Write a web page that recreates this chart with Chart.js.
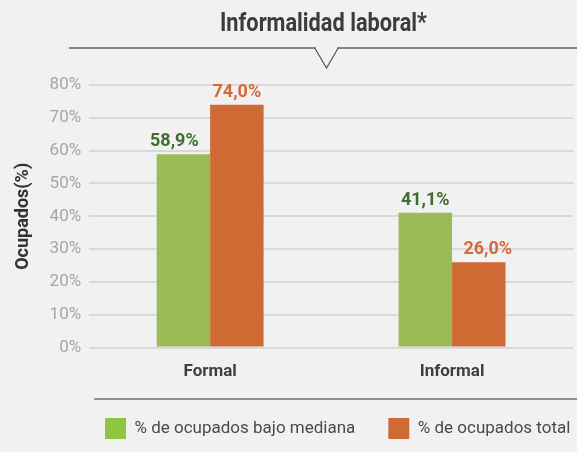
<!DOCTYPE html>
<html><head><meta charset="utf-8">
<script src="https://cdn.jsdelivr.net/npm/chart.js@4/dist/chart.umd.min.js"></script>
<style>html,body{margin:0;padding:0;background:#f1f1f1;overflow:hidden}#wrap{width:577px;height:452px;position:relative}</style>
</head><body><div id="wrap"><canvas id="c" width="577" height="452"></canvas></div>
<script>
const categories = ['Formal', 'Informal'];
const seriesNames = ['% de ocupados bajo mediana', '% de ocupados total'];
const bajoMediana = [58.9, 41.1];
const ocupadosTotal = [74.0, 26.0];
const yTickValues = [0, 10, 20, 30, 40, 50, 60, 70, 80];
const chartTitle = 'Informalidad laboral*';
const yAxisTitle = 'Ocupados(%)';

const barColors = ['#9bbb59', '#d06a35'];
const legendColors = ['#8dc63f', '#d06a35'];
const labelColors = ['#3f6d2f', '#d4693a'];
const BASE_FONT = "Roboto, 'Noto Sans', sans-serif";

function fmt(v) { return v.toFixed(1).replace('.', ',') + '%'; }

const shiftPlugin = {
  id: 'shiftPlugin',
  afterLayout(chart) {
    const lg = chart.legend;
    if (lg) {
      const pad = lg.options.labels.padding;
      lg.left = 105 - pad; lg.right = lg.left + 700;
      lg.top = 418 - pad; lg.bottom = lg.top + lg.height;
    }
  }
};

const titlePlugin = {
  id: 'condensedTitle',
  afterDraw(chart) {
    const ctx = chart.ctx;
    ctx.save();
    ctx.font = "bold 25px " + BASE_FONT;
    ctx.fillStyle = '#3c3c3c';
    ctx.textAlign = 'center';
    ctx.textBaseline = 'alphabetic';
    const w = ctx.measureText(chartTitle).width;
    const sx = 207 / w;
    ctx.translate(323.5, 31);
    ctx.scale(sx, 1);
    ctx.fillText(chartTitle, 0, 0);
    ctx.restore();
  }
};

const decorPlugin = {
  id: 'decorPlugin',
  afterDraw(chart) {
    const ctx = chart.ctx;
    const cx = 326.5;
    ctx.save();
    ctx.strokeStyle = '#888888';
    ctx.lineWidth = 2;
    ctx.beginPath();
    ctx.moveTo(69, 48); ctx.lineTo(cx - 11, 48);
    ctx.moveTo(cx + 11, 48); ctx.lineTo(577, 48);
    ctx.stroke();
    ctx.strokeStyle = '#555555';
    ctx.lineWidth = 1.2;
    ctx.beginPath();
    ctx.moveTo(cx - 12, 47.5); ctx.lineTo(cx, 68); ctx.lineTo(cx + 12, 47.5);
    ctx.stroke();
    ctx.strokeStyle = '#909090';
    ctx.lineWidth = 2;
    ctx.beginPath();
    ctx.moveTo(94, 399); ctx.lineTo(577, 399);
    ctx.stroke();
    ctx.restore();
  }
};

const valueLabelPlugin = {
  id: 'valueLabelPlugin',
  afterDatasetsDraw(chart) {
    const ctx = chart.ctx;
    ctx.save();
    ctx.font = "bold 18px " + BASE_FONT;
    ctx.textAlign = 'center';
    ctx.textBaseline = 'alphabetic';
    chart.data.datasets.forEach((ds, di) => {
      const meta = chart.getDatasetMeta(di);
      meta.data.forEach((bar, i) => {
        const v = ds.data[i];
        const other = chart.data.datasets[1 - di].data[i];
        let dx = 0;
        if (other > v) dx = (di === 0 ? -1 : 1) * 9;
        ctx.fillStyle = labelColors[di];
        ctx.fillText(fmt(v), bar.x + dx, bar.y - 8);
      });
    });
    ctx.restore();
  }
};

new Chart(document.getElementById('c'), {
  type: 'bar',
  data: {
    labels: categories,
    datasets: [
      { label: seriesNames[0], data: bajoMediana, backgroundColor: barColors[0], legendColor: legendColors[0] },
      { label: seriesNames[1], data: ocupadosTotal, backgroundColor: barColors[1], legendColor: legendColors[1] }
    ]
  },
  options: {
    responsive: false,
    devicePixelRatio: 1,
    animation: false,
    layout: { padding: { left: 0, right: 4, top: 85, bottom: -8 } },
    datasets: { bar: { categoryPercentage: 0.442, barPercentage: 1 } },
    plugins: {
      title: { display: false },
      legend: {
        display: true, position: 'bottom', align: 'start',
        labels: {
          boxWidth: 21, boxHeight: 21, padding: 33, color: '#4a4a4a',
          font: { family: BASE_FONT, size: 17 },
          generateLabels(chart) {
            return chart.data.datasets.map((ds, i) => ({
              text: ds.label, fillStyle: ds.legendColor, strokeStyle: ds.legendColor,
              lineWidth: 0, hidden: false, datasetIndex: i, fontColor: '#4a4a4a'
            }));
          }
        }
      },
      tooltip: { enabled: false }
    },
    scales: {
      x: {
        grid: { display: false, drawTicks: false },
        border: { display: false },
        ticks: { color: '#404040', font: { family: BASE_FONT, size: 17, weight: 'bold' }, padding: 14 }
      },
      y: {
        min: 0, max: 80,
        afterBuildTicks(scale) { scale.ticks = yTickValues.map(v => ({ value: v })); },
        grid: { color: '#d9d9d9', lineWidth: 2, drawTicks: false },
        border: { display: false },
        ticks: { color: '#a6a6a6', font: { family: BASE_FONT, size: 17 }, padding: 8, callback: v => v + '%' },
        title: {
          display: true, text: yAxisTitle, color: '#333333',
          font: { family: BASE_FONT, size: 18, weight: 'bold' },
          padding: { top: 13, bottom: 7 }
        }
      }
    }
  },
  plugins: [shiftPlugin, valueLabelPlugin, titlePlugin, decorPlugin]
});
</script>
</body></html>
